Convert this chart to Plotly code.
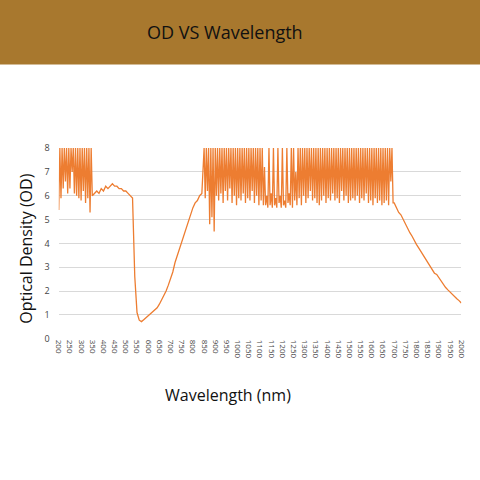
import plotly.graph_objects as go

# segment 1: 200-345, step 5 (spiky)
wl1 = list(range(200, 350, 5))
od1 = [5.4, 8, 5.9, 8, 6.3, 8, 6.6, 8, 6.1, 8, 6.3, 8, 7.0, 8, 6.1, 8, 6.0, 8, 5.9, 8,
       5.8, 8, 6.2, 8, 5.7, 8, 5.9, 8, 5.3, 8]
# segment 2: 350-840, step 10 (smooth)
wl2 = list(range(350, 850, 10))
od2 = [6.0, 6.1, 6.2, 6.1, 6.3, 6.2, 6.4, 6.3, 6.4, 6.5, 6.4, 6.4, 6.3, 6.3, 6.2, 6.2, 6.1, 6.0, 5.9,
       2.6, 1.1, 0.78, 0.72, 0.8, 0.88, 0.96, 1.04, 1.12, 1.2, 1.3, 1.45, 1.62, 1.8, 2.0,
       2.25, 2.5, 2.8, 3.2, 3.5, 3.8, 4.1, 4.4, 4.7, 5.0, 5.2, 5.5, 5.7, 5.8, 6.0, 6.1]
# segment 3: 850-1695, step 5 (spiky)
wl3 = list(range(850, 1700, 5))
od3 = [
 8, 5.9, 8, 6.2, 8, 4.8, 8, 5.1, 8, 4.5, 8, 6.0, 8, 5.8, 8, 6.1, 8, 5.7, 8, 6.2,
 8, 5.8, 8, 6.3, 8, 5.7, 8, 6.0, 8, 5.6, 8, 5.9, 8, 5.8, 8, 6.1, 8, 5.7, 8, 5.9,
 8, 5.8, 8, 6.2, 8, 5.7, 8, 6.0, 8, 5.6, 8, 5.8, 8, 5.6, 7.2, 5.6, 6.0, 5.5, 8, 5.6,
 6.1, 5.5, 8, 5.6, 5.9, 5.5, 8, 5.7, 6.0, 5.5, 8, 5.6, 5.8, 5.5, 8, 5.7, 6.1, 5.6, 8, 5.5,
 8, 5.8, 7.0, 5.6, 8, 5.9, 8, 5.6, 8, 6.0, 8, 5.7, 8, 5.9, 8, 6.2, 8, 5.8, 8, 5.9,
 8, 5.7, 8, 5.6, 8, 5.8, 8, 6.0, 8, 5.7, 8, 5.9, 8, 5.8, 8, 6.1, 8, 5.8, 8, 5.9,
 8, 5.7, 8, 6.2, 8, 5.8, 8, 6.0, 8, 5.7, 8, 5.8, 8, 5.9, 8, 5.8, 8, 6.0, 8, 5.7,
 8, 5.9, 8, 5.8, 8, 6.1, 8, 5.7, 8, 5.8, 8, 5.6, 8, 5.9, 8, 5.7, 8, 5.8, 8, 5.6,
 8, 5.7, 8, 5.8, 8, 5.6, 8, 6.6, 8, 5.7]
# segment 4: 1700-2000, step 10 (smooth decay)
wl4 = list(range(1700, 2001, 10))
od4 = [5.7, 5.5, 5.3, 5.2, 5.0, 4.8, 4.6, 4.45, 4.3, 4.1, 3.95, 3.8, 3.65, 3.5, 3.35,
       3.2, 3.05, 2.9, 2.75, 2.7, 2.55, 2.4, 2.28, 2.15, 2.05, 1.95, 1.85, 1.77, 1.68, 1.6, 1.5]

wl = wl1 + wl2 + wl3 + wl4
od = od1 + od2 + od3 + od4
n = min(len(wl), len(od))
wl, od = wl[:n], od[:n]

tick_vals = list(range(200, 2001, 50))
tick_text = [str(v) for v in tick_vals]

fig = go.Figure(go.Scatter(x=wl, y=od, mode="lines",
                           line=dict(color="#ED7D31", width=1.3)))
fnt = "Open Sans"
fig.update_layout(
    width=480, height=480, margin=dict(l=0, r=0, t=0, b=0, pad=0),
    paper_bgcolor="white", plot_bgcolor="white", showlegend=False,
    shapes=[dict(type="rect", xref="paper", yref="paper", x0=-0.1, x1=1.1,
                 y0=1 - 59/480, y1=1.1, fillcolor="#A8782E", line_width=0, layer="below")],
    annotations=[
        dict(text="OD VS Wavelength", xref="paper", yref="paper", x=0.47, y=1 - 26/480,
             yanchor="middle", showarrow=False, font=dict(size=18, color="#111", family=fnt)),
        dict(text="Wavelength (nm)", xref="paper", yref="paper", x=0.475, y=1 - 399/480,
             yanchor="middle", showarrow=False, font=dict(size=16, color="#111", family=fnt)),
        dict(text="Optical Density (OD)", xref="paper", yref="paper", x=22/480, y=1 - 248/480,
             xanchor="center", yanchor="middle",
             textangle=-90, showarrow=False, font=dict(size=16, color="#111", family=fnt)),
    ],
    xaxis=dict(domain=[55/480, 467/480], range=[200, 2000], tickvals=tick_vals,
               ticktext=tick_text, tickangle=90, tickfont=dict(size=8, color="#444", family=fnt),
               showgrid=False, zeroline=False, showline=False, fixedrange=True),
    yaxis=dict(domain=[1 - 341/480, 1 - 145/480], range=[0, 8], dtick=1,
               tickfont=dict(size=9, color="#444", family=fnt), gridcolor="#D9D9D9",
               ticklabelstandoff=8,
               zeroline=False, showline=False, ticks="", fixedrange=True),
)
fig.write_html("out.html", config={"displayModeBar": False})
with open("out.html") as f:
    html = f.read()
html = html.replace("<head>", "<head><style>html,body{margin:0;padding:0;overflow:hidden}</style>", 1)
with open("out.html", "w") as f:
    f.write(html)
